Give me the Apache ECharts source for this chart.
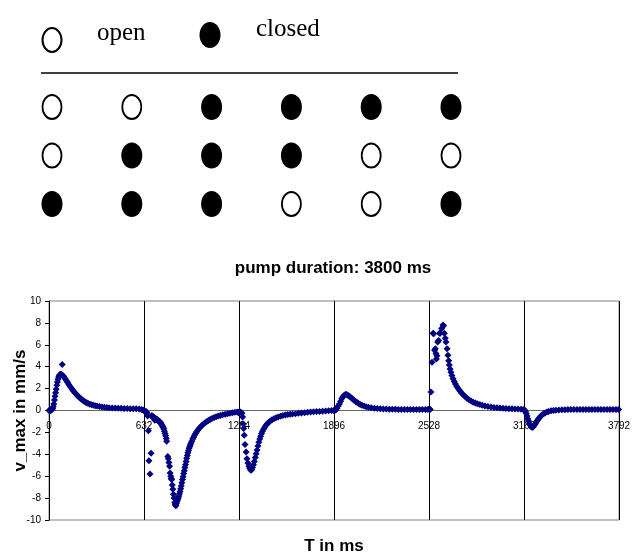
<!DOCTYPE html>
<html><head><meta charset="utf-8">
<script src="https://cdn.jsdelivr.net/npm/echarts@6/dist/echarts.min.js"></script>
<style>html,body{margin:0;padding:0;background:#fff}#c{width:634px;height:554px}</style>
</head><body><div id="c"></div>
<script>
// valve states: 0 = open, 1 = closed (rows top to bottom, 6 phases)
const valveRow1 = [0,0,1,1,1,1];
const valveRow2 = [0,1,1,1,0,0];
const valveRow3 = [1,1,1,0,0,1];

const xTickStep = 632;
const xMax = 3792;

// [T in ms, v_max in mm/s]
const phase1 = [[0,0],[4,0.02],[8,0],[12,0.03],[16,0.05],[20,0.1],[24,0.18],[28,0.35],[32,0.6],[36,0.95],[40,1.3],[44,1.62],[48,1.95],[52,2.3],[56,2.6],[60,2.85],[64,3.05],[68,3.18],[72,3.26],[76,3.3],[80,3.3],[84,3.26],[88,4.2],[92,3.2],[96,3.12],[100,3.05],[108,2.9],[116,2.72],[124,2.55],[132,2.38],[140,2.2],[148,2.05],[156,1.9],[164,1.75],[172,1.62],[180,1.5],[188,1.38],[196,1.27],[204,1.17],[212,1.07],[220,0.98],[228,0.9],[236,0.83],[244,0.76],[252,0.7],[260,0.65],[272,0.58],[284,0.52],[296,0.47],[308,0.43],[320,0.4],[336,0.36],[352,0.33],[368,0.3],[384,0.27],[400,0.25],[420,0.23],[440,0.22],[460,0.21],[480,0.2],[500,0.19],[520,0.18],[540,0.17],[560,0.16],[580,0.15],[600,0.13],[616,0.1],[626,0.05]];
const phase2 = [[634,-0.05],[640,-0.1],[646,-0.08],[652,-0.2],[656,-0.5],[661,-1.86],[665,-4.6],[672,-5.8],[679,-3.9],[684,-0.45],[688,-0.6],[692,-0.55],[696,-0.7],[700,-0.65],[704,-0.9],[708,-0.75],[712,-0.8],[716,-0.78],[720,-0.85],[724,-0.9],[728,-0.95],[732,-0.95],[736,-1.0],[740,-1.08],[744,-1.15],[748,-1.25],[752,-1.35],[756,-1.45],[760,-1.55],[764,-1.7],[768,-1.9],[772,-2.1],[776,-2.3],[780,-2.55],[783,-2.8],[790,-4.2],[794,-4.4],[798,-4.75],[802,-5.1],[806,-5.7],[810,-6.0],[813,-6.2],[816,-6.3],[820,-6.8],[824,-7.2],[828,-7.65],[832,-8.0],[836,-8.4],[840,-8.6],[844,-8.7],[848,-8.5],[852,-8.3],[856,-8.15],[860,-8.0],[864,-7.8],[868,-7.6],[872,-7.4],[876,-7.15],[880,-6.9],[884,-6.6],[888,-6.3],[892,-6.05],[896,-5.75],[900,-5.5],[904,-5.2],[908,-4.95],[912,-4.65],[916,-4.35],[920,-4.1],[924,-3.85],[928,-3.65],[932,-3.45],[936,-3.3],[940,-3.15],[944,-3.0],[950,-2.8],[956,-2.6],[962,-2.45],[968,-2.25],[975,-2.1],[982,-1.95],[990,-1.8],[998,-1.65],[1006,-1.52],[1016,-1.38],[1026,-1.25],[1036,-1.14],[1048,-1.02],[1060,-0.92],[1072,-0.82],[1084,-0.73],[1098,-0.64],[1112,-0.56],[1126,-0.5],[1140,-0.45],[1156,-0.39],[1172,-0.34],[1188,-0.29],[1204,-0.24],[1220,-0.2],[1236,-0.17],[1252,-0.14],[1260,-0.2]];
const phase3 = [[1268,-0.1],[1276,-0.15],[1284,-0.25],[1288,-0.6],[1291,-1.2],[1295,-1.65],[1299,-2.25],[1304,-3.1],[1311,-3.8],[1317,-4.4],[1323,-4.8],[1330,-5.1],[1336,-5.3],[1342,-5.45],[1348,-5.4],[1354,-5.2],[1360,-4.95],[1366,-4.65],[1372,-4.3],[1378,-3.95],[1384,-3.6],[1390,-3.25],[1396,-2.9],[1402,-2.6],[1408,-2.35],[1414,-2.1],[1420,-1.9],[1428,-1.7],[1436,-1.5],[1444,-1.35],[1452,-1.22],[1462,-1.08],[1472,-0.96],[1484,-0.85],[1496,-0.76],[1510,-0.67],[1524,-0.59],[1540,-0.52],[1556,-0.46],[1572,-0.41],[1588,-0.37],[1604,-0.34],[1620,-0.32],[1640,-0.3],[1660,-0.26],[1680,-0.23],[1700,-0.2],[1720,-0.17],[1740,-0.14],[1760,-0.12],[1780,-0.1],[1800,-0.08],[1820,-0.06],[1840,-0.05],[1860,-0.03],[1880,-0.01],[1894,0]];
const phase4 = [[1900,0],[1908,0.05],[1916,0.2],[1924,0.4],[1932,0.6],[1940,0.85],[1948,1.1],[1956,1.28],[1964,1.4],[1972,1.45],[1980,1.45],[1988,1.4],[1996,1.32],[2004,1.24],[2012,1.14],[2020,1.04],[2030,0.93],[2040,0.82],[2050,0.72],[2060,0.63],[2070,0.55],[2082,0.48],[2096,0.41],[2110,0.35],[2126,0.3],[2144,0.25],[2164,0.21],[2184,0.18],[2204,0.16],[2224,0.14],[2244,0.13],[2264,0.12],[2284,0.12],[2304,0.11],[2324,0.1],[2344,0.1],[2364,0.09],[2384,0.09],[2404,0.09],[2424,0.09],[2444,0.09],[2464,0.09],[2484,0.1],[2504,0.1],[2520,0.1]];
const phase5 = [[2530,0.15],[2536,0.1],[2541,1.7],[2548,4.4],[2555,7.05],[2559,7.0],[2565,5.5],[2570,5.65],[2574,5.2],[2577,4.7],[2581,5.0],[2586,6.25],[2592,6.4],[2598,7.05],[2603,7.05],[2612,7.5],[2621,7.8],[2625,7.75],[2630,7.05],[2636,6.6],[2641,6.25],[2648,5.65],[2654,5.05],[2659,4.55],[2663,4.15],[2668,3.8],[2674,3.5],[2680,3.2],[2688,2.9],[2696,2.65],[2704,2.42],[2712,2.22],[2720,2.05],[2728,1.9],[2736,1.75],[2746,1.58],[2756,1.43],[2768,1.28],[2780,1.12],[2794,0.98],[2808,0.86],[2822,0.76],[2836,0.68],[2850,0.61],[2866,0.54],[2882,0.47],[2900,0.42],[2920,0.37],[2940,0.32],[2960,0.28],[2980,0.25],[3000,0.22],[3020,0.2],[3040,0.18],[3060,0.16],[3080,0.15],[3100,0.14],[3120,0.13],[3140,0.12],[3156,0.1]];
const phase6 = [[3164,0.05],[3170,-0.1],[3175,-0.27],[3180,-0.5],[3185,-0.75],[3190,-0.95],[3196,-1.2],[3202,-1.35],[3208,-1.48],[3214,-1.55],[3220,-1.5],[3226,-1.4],[3232,-1.28],[3238,-1.15],[3244,-1.0],[3250,-0.88],[3257,-0.75],[3264,-0.63],[3272,-0.5],[3280,-0.4],[3290,-0.3],[3300,-0.22],[3312,-0.14],[3324,-0.08],[3340,-0.03],[3356,0.0],[3372,0.03],[3392,0.05],[3412,0.06],[3432,0.07],[3452,0.08],[3472,0.08],[3492,0.09],[3512,0.09],[3532,0.09],[3552,0.1],[3572,0.1],[3592,0.1],[3612,0.1],[3632,0.1],[3652,0.1],[3672,0.1],[3692,0.1],[3712,0.1],[3732,0.1],[3752,0.1],[3772,0.1],[3790,0.1]];

const FONT = '"Liberation Sans", Arial, sans-serif';
const SERIF = '"Liberation Serif", "Times New Roman", serif';
const ELLIPSE = 'path://M0,50 A50,50 0 1,1 100,50 A50,50 0 1,1 0,50 Z';

const valveRows = [valveRow1, valveRow2, valveRow3];
const openPts = [], closedPts = [];
valveRows.forEach((row, r) => row.forEach((s, c) => (s ? closedPts : openPts).push([c, r])));

// plot geometry
const G = {left: 49, right: 15, top: 301, bottom: 34, height: 554 - 301 - 34};

const chart = echarts.init(document.getElementById('c'), null, {renderer: 'canvas'});
chart.setOption({
  animation: false,
  backgroundColor: '#fff',
  title: {
    text: 'pump duration: 3800 ms',
    left: 328, top: 255, textAlign: 'center',
    textStyle: {fontSize: 17, fontWeight: 'bold', color: '#000', fontFamily: FONT}
  },
  grid: [
    {left: G.left, right: G.right, top: G.top, bottom: G.bottom, show: true, borderColor: '#808080', borderWidth: 1,
     containLabel: false, outerBoundsMode: 'none'},
    {left: 52, top: 107, width: 399, height: 97, show: false, containLabel: false, outerBoundsMode: 'none'}
  ],
  xAxis: [
    {
      type: 'value', gridIndex: 0, min: 0, max: xMax, interval: xTickStep,
      position: 'bottom', offset: -G.height / 2,
      axisLine: {onZero: false, lineStyle: {color: '#666', width: 1}},
      axisTick: {show: false},
      axisLabel: {fontSize: 10, color: '#000', margin: 11, fontFamily: FONT, showMinLabel: true, showMaxLabel: true,
                  formatter: v => String(v)},
      splitLine: {show: true, lineStyle: {color: '#000', width: 1}},
      name: 'T in ms', nameLocation: 'middle', nameGap: 127, nameMoveOverlap: false,
      nameTextStyle: {fontSize: 17, fontWeight: 'bold', color: '#000', fontFamily: FONT}
    },
    {type: 'value', gridIndex: 1, min: 0, max: 5, show: false}
  ],
  yAxis: [
    {
      type: 'value', gridIndex: 0, min: -10, max: 10, interval: 2,
      axisLine: {show: true, onZero: false, lineStyle: {color: '#000', width: 1}},
      axisTick: {show: true, length: 4, lineStyle: {color: '#000'}},
      axisLabel: {fontSize: 10, color: '#000', margin: 8, fontFamily: FONT},
      splitLine: {show: false},
      name: 'v_max in mm/s', nameLocation: 'middle', nameGap: 20, nameRotate: 90, nameMoveOverlap: false,
      nameTextStyle: {fontSize: 17, fontWeight: 'bold', color: '#000', fontFamily: FONT}
    },
    {type: 'value', gridIndex: 1, min: 0, max: 2, inverse: true, show: false}
  ],
  series: [
    {
      type: 'scatter', xAxisIndex: 0, yAxisIndex: 0,
      symbol: 'diamond', symbolSize: 7,
      itemStyle: {color: '#000080', opacity: 1},
      data: phase1.concat(phase2, phase3, phase4, phase5, phase6)
    },
    {
      type: 'scatter', xAxisIndex: 1, yAxisIndex: 1,
      symbol: ELLIPSE, symbolSize: [19, 24],
      itemStyle: {color: '#fff', borderColor: '#000', borderWidth: 2, opacity: 1},
      data: openPts
    },
    {
      type: 'scatter', xAxisIndex: 1, yAxisIndex: 1,
      symbol: ELLIPSE, symbolSize: [21, 26],
      itemStyle: {color: '#000', opacity: 1},
      data: closedPts
    }
  ],
  graphic: [
    {type: 'ellipse', shape: {cx: 52, cy: 40, rx: 9.5, ry: 12}, style: {fill: '#fff', stroke: '#000', lineWidth: 2}},
    {type: 'text', x: 97, y: 21, style: {text: 'open', font: '25px ' + SERIF, fill: '#000'}},
    {type: 'ellipse', shape: {cx: 210, cy: 35, rx: 10.5, ry: 13}, style: {fill: '#000'}},
    {type: 'text', x: 256, y: 17, style: {text: 'closed', font: '25px ' + SERIF, fill: '#000'}},
    {type: 'line', shape: {x1: 41, y1: 73, x2: 458, y2: 73}, style: {stroke: '#000', lineWidth: 1.5}}
  ]
});
</script>
</body></html>
